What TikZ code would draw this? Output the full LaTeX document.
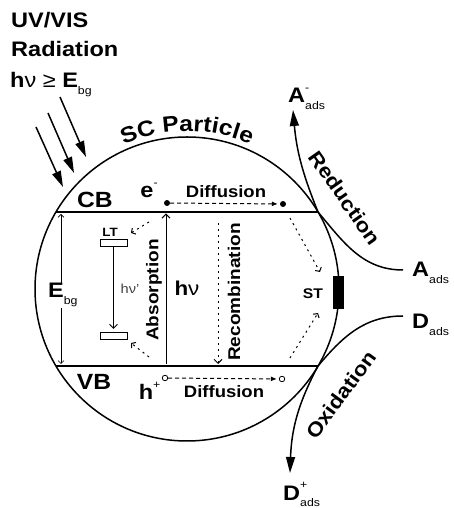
\documentclass[tikz,border=0pt]{standalone}
\usepackage{fontspec}
\setmainfont{Liberation Sans}[FakeStretch=1.12]
\usetikzlibrary{arrows.meta,decorations.text}

\newcommand{\fsz}[1]{\fontsize{#1}{#1}\selectfont}
\newcommand{\lowtext}[1]{\raisebox{-0.3em}{\fsz{11}\mdseries #1}}
\newcommand{\hightext}[1]{\raisebox{0.55em}{\fsz{11}\mdseries #1}}

\begin{document}
\begin{tikzpicture}[x=1pt,y=1pt,font=\bfseries,
    shell/.style={line width=1.5pt},
    band/.style={line width=2.6pt},
    bigtip/.style={-{Triangle[length=16pt,width=9pt]}},
    diffarrow/.style={line width=1pt,dash pattern=on 4pt off 3pt,-{Latex[length=6pt,width=5pt]},shorten >=2pt},
    traparrow/.style={line width=1pt,dash pattern=on 2pt off 4pt,-{Straight Barb[length=3pt,width=7pt]}},
    trap/.style={draw,line width=1pt,minimum width=27pt,minimum height=7pt,inner sep=0pt},
    carrier/.style={circle,inner sep=0pt,minimum size=6pt}]
  \useasboundingbox (0,0) rectangle (453,508);

  % radiation
  \node[anchor=base west,inner sep=0pt] (uv) at (11,480) {\fsz{21}UV/VIS};
  \node[anchor=base west,inner sep=0pt] (rad) at (11,451) {\fsz{21}Radiation};
  \node[anchor=base west,inner sep=0pt] (cond) at (10,420) {\fsz{21}h{\mdseries ν} {\mdseries ≥} E\lowtext{bg}};
  \coordinate (r1s) at (60,411);  \coordinate (r1e) at (86,351);
  \coordinate (r2s) at (48,395);  \coordinate (r2e) at (74,335);
  \coordinate (r3s) at (36,381);  \coordinate (r3e) at (63,321);
  \foreach \r in {1,2,3}
    \draw[line width=1.5pt,bigtip] (r\r s) -- (r\r e);

  % particle
  \coordinate (c) at (187,219);
  \draw[shell] (c) circle[radius=152];
  \path[decorate,decoration={text along path,text align=center,
      text={|\fsz{22}\bfseries|SC Particle}}]
    (c) ++(140:158) arc[start angle=140,end angle=40,radius=158];

  % bands
  \coordinate (cbL) at (56,296);  \coordinate (cbR) at (318,296);
  \coordinate (vbL) at (56,142);  \coordinate (vbR) at (318,142);
  \draw[band] (cbL) -- (cbR);
  \draw[band] (vbL) -- (vbR);
  \node (cb) at (95,308) {\fsz{22}CB};
  \node (vb) at (94,126) {\fsz{22}VB};

  % band gap
  \coordinate (eg1) at (61,294);  \coordinate (eg2) at (61,144);
  \draw[line width=0.6pt,{Straight Barb[length=3pt,width=6pt]}-{Straight Barb[length=3pt,width=6pt]}] (eg1) -- (eg2);
  \node[anchor=base west,fill=white,inner sep=1pt] (ebg) at (47,210) {\fsz{21}E\lowtext{bg}};

  % traps
  \node[trap] (lt1) at (113.5,264.5) {};
  \node[trap] (lt2) at (113.5,172) {};
  \node (ltl) at (110,276) {\fsz{12}LT};
  \draw[line width=1pt,-{Straight Barb[length=4pt,width=8pt]},shorten >=3pt] (lt1) -- (lt2);
  \node[black!75] (hnu2) at (130,219) {\fsz{13}\mdseries hν'};
  \coordinate (cap1) at (149,286);  \coordinate (cap1e) at (131,275);
  \coordinate (cap2) at (149,151);  \coordinate (cap2e) at (131,165);
  \draw[traparrow] (cap1) -- (cap1e);
  \draw[traparrow] (cap2) -- (cap2e);

  % absorption
  \coordinate (ab0) at (166,143.5);  \coordinate (ab1) at (166,294.5);
  \draw[line width=1pt,-{Straight Barb[length=4pt,width=8pt]}] (ab0) -- (ab1);
  \node[rotate=90] (absl) at (154,218) {\fsz{17}Absorption};
  \node (hnu) at (187,220) {\fsz{20}h{\mdseries ν}};

  % carriers and diffusion
  \node[carrier,fill=black] (e1) at (167,305) {};
  \node[carrier,fill=black] (e2) at (283,304) {};
  \node[carrier,draw,line width=0.8pt,minimum size=5.5pt] (h1) at (165,130) {};
  \node[carrier,draw,line width=0.8pt,minimum size=5.5pt] (h2) at (282,129) {};
  \node[anchor=base] (el) at (147,310) {\fsz{21}e\rlap{\hightext{-}}};
  \node[anchor=base] (hl) at (146,108) {\fsz{21}h\rlap{\hightext{+}}};
  \draw[diffarrow] (e1) -- (e2);
  \draw[diffarrow] (h1) -- (h2);
  \node[anchor=base] (dif1) at (226,310) {\fsz{16.5}Diffusion};
  \node[anchor=base] (dif2) at (224,110) {\fsz{16.5}Diffusion};

  % recombination
  \coordinate (rc0) at (218,285);  \coordinate (rc1) at (218,144);
  \draw[line width=1pt,dash pattern=on 2pt off 4pt,-{Straight Barb[length=4pt,width=8pt]}] (rc0) -- (rc1);
  \node[rotate=90] (recl) at (234,216) {\fsz{17}Recombination};

  % surface trap
  \node[fill=black,minimum width=11pt,minimum height=33pt,inner sep=0pt] (st) at (338,215) {};
  \node (stl) at (313,214) {\fsz{14}ST};
  \coordinate (sc1) at (290,290);  \coordinate (sc1e) at (320,236);
  \coordinate (sc2) at (290,150);  \coordinate (sc2e) at (318,195);
  \draw[traparrow] (sc1) -- (sc1e);
  \draw[traparrow] (sc2) -- (sc2e);

  % reduction / oxidation
  \coordinate (aend) at (403,238);
  \coordinate (dend) at (403,192);
  \coordinate (atip) at (293,398);
  \coordinate (dtip) at (290,35);
  \draw[shell] (cbR) to[out=-50,in=180] (aend);
  \draw[shell] (vbR) to[out=50,in=180] (dend);
  \draw[shell,bigtip] (cbR) to[out=112,in=-85] (atip);
  \draw[shell,bigtip] (vbR) to[out=-118,in=88] (dtip);
  \node[anchor=base west,inner sep=0pt] (aads) at (412,231) {\fsz{21}A\lowtext{ads}};
  \node[anchor=base west,inner sep=0pt] (dads) at (412,179) {\fsz{21}D\lowtext{ads}};
  \node[anchor=base west,inner sep=0pt] (amin) at (288,405) {\fsz{21}A\rlap{\hightext{-}}\lowtext{ads}};
  \node[anchor=base west,inner sep=0pt] (dplus) at (283,8) {\fsz{21}D\rlap{\hightext{+}}\lowtext{ads}};
  \node[rotate=-55] (red) at (345,310) {\fsz{20}Reduction};
  \node[rotate=54] (oxi) at (341,113) {\fsz{20}Oxidation};
\end{tikzpicture}
\end{document}
